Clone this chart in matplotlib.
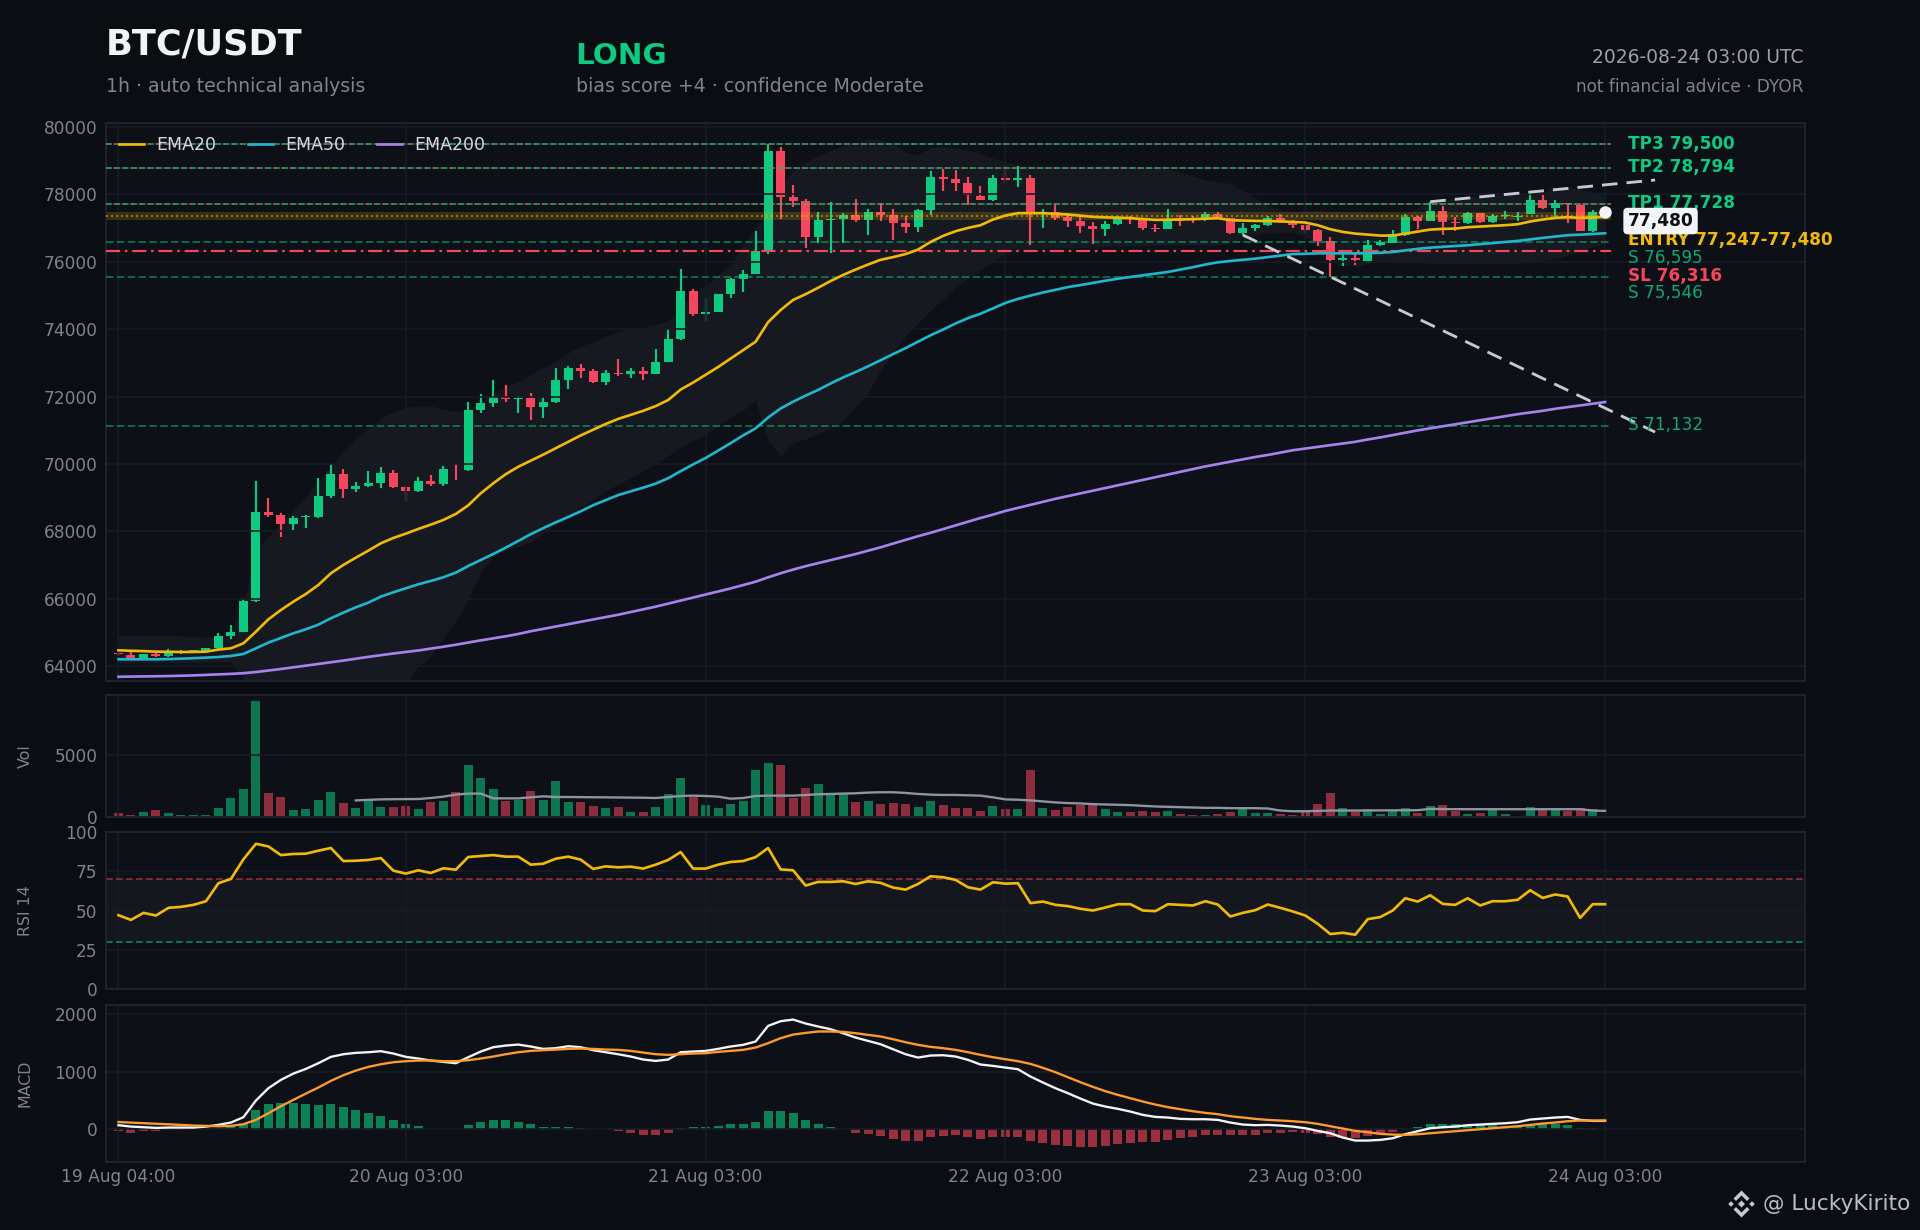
#!/usr/bin/python3
import matplotlib
matplotlib.use("Agg")
import matplotlib.pyplot as plt
from matplotlib.patches import Polygon

BG = "#0a0d11"
PANEL = "#0d1117"
GRID = "#171b25"
GREEN = "#0ecb81"
RED = "#f6465d"
GOLD = "#f0b90b"
MUTED = "#7d8490"

opens = [
    64370, 64336, 64247, 64375, 64306, 64415, 64415, 64465, 64544, 64900,
    65019, 65938, 68579, 68490, 68223, 68420, 68430, 69054, 69707, 69252,
    69350, 69440, 69736, 69321, 69202, 69499, 69410, 69855, 69825, 71605,
    71800, 71990, 71930, 71950, 71680, 71830, 72487, 72844, 72755, 72427,
    72695, 72665, 72755, 72665, 73023, 73708, 75138, 74453, 74512, 75048,
    75495, 75644, 76359, 79279, 77938, 77819, 76746, 77253, 77283, 77402,
    77253, 77491, 77402, 77146, 77027, 77533, 78516, 78457, 78338, 77950,
    77831, 78487, 78427, 78487, 77430, 77474, 77325, 77206, 77057, 76967,
    77116, 77325, 77265, 76997, 76967, 77285, 77295, 77265, 77414, 77295,
    76848, 76997, 77086, 77295, 77206, 77086, 76937, 76610, 76044, 76103,
    76014, 76490, 76550, 76788, 77325, 77206, 77503, 77176, 77146, 77444,
    77176, 77365, 77335, 77414, 77831, 77593, 77742, 77682, 76908, 77474,
]
closes = [
    64360, 64247, 64366, 64316, 64425, 64435, 64475, 64544, 64900, 65019,
    65938, 68589, 68480, 68223, 68401, 68450, 69054, 69707, 69262, 69350,
    69440, 69736, 69321, 69202, 69499, 69410, 69855, 69840, 71605, 71813,
    71990, 71930, 71950, 71680, 71830, 72487, 72844, 72755, 72427, 72695,
    72665, 72755, 72665, 73023, 73708, 75138, 74453, 74512, 75048, 75495,
    75644, 76329, 79279, 77938, 77819, 76746, 77253, 77283, 77402, 77253,
    77491, 77402, 77146, 77027, 77533, 78516, 78457, 78338, 77980, 77831,
    78487, 78427, 78487, 77430, 77460, 77295, 77206, 77057, 76967, 77116,
    77325, 77305, 76997, 76967, 77265, 77265, 77275, 77414, 77295, 76848,
    76997, 77086, 77295, 77206, 77086, 76937, 76610, 76044, 76103, 76044,
    76490, 76580, 76818, 77325, 77206, 77503, 77176, 77146, 77444, 77176,
    77355, 77375, 77355, 77831, 77593, 77742, 77712, 76908, 77474, 77480,
]
highs = [
    64395, 64415, 64366, 64415, 64514, 64485, 64475, 64544, 64989, 65226,
    65998, 69499, 68995, 68540, 68460, 68490, 69588, 70003, 69855, 69469,
    69795, 69914, 69825, 69351, 69617, 69677, 69944, 70033, 71843, 72070,
    72487, 72340, 72010, 72100, 71980, 72844, 72904, 72963, 72814, 72785,
    73112, 72844, 72874, 73410, 74006, 75793, 75197, 74900, 75048, 75525,
    75763, 76925, 79487, 79398, 78266, 77879, 77491, 77789, 77461, 77879,
    77581, 77760, 77563, 77355, 77563, 78695, 78755, 78725, 78516, 78248,
    78576, 78844, 78844, 78576, 77563, 77682, 77384, 77325, 77176, 77206,
    77355, 77355, 77295, 77116, 77563, 77384, 77355, 77474, 77474, 77295,
    77146, 77116, 77355, 77414, 77235, 77176, 76987, 76729, 76342, 76222,
    76640, 76640, 76937, 77414, 77355, 77772, 77652, 77325, 77474, 77444,
    77414, 77503, 77474, 78010, 77980, 77831, 77742, 77712, 77533, 77490,
]
lows = [
    64315, 64247, 64240, 64277, 64277, 64366, 64400, 64450, 64485, 64820,
    65019, 65918, 68430, 67837, 68045, 68104, 68400, 68995, 68995, 69173,
    69320, 69291, 69291, 68905, 69172, 69350, 69350, 69528, 69795, 71516,
    71680, 71830, 71503, 71295, 71355, 71800, 72218, 72546, 72397, 72338,
    72606, 72546, 72487, 72665, 73023, 73678, 74393, 74244, 74512, 74929,
    75108, 75644, 76240, 77283, 77640, 76419, 76568, 76270, 76568, 77193,
    76806, 77223, 76640, 76848, 76878, 77384, 78099, 78099, 77682, 77831,
    77801, 78367, 78218, 76491, 76997, 77235, 77027, 76848, 76520, 76759,
    77087, 77116, 76937, 76878, 76967, 77057, 77146, 77206, 77265, 76818,
    76789, 76908, 77057, 77146, 76997, 76848, 76461, 75537, 75865, 75895,
    75954, 76461, 76550, 76759, 76967, 77206, 76789, 76908, 77126, 77146,
    77146, 77265, 77206, 77414, 77563, 77295, 77146, 76908, 76878, 77470,
]

ema20 = [
    64475, 64460, 64450, 64435, 64430, 64425, 64425, 64435, 64495, 64534,
    64682, 65028, 65394, 65671, 65919, 66146, 66413, 66759, 67007, 67224,
    67432, 67649, 67808, 67936, 68075, 68203, 68342, 68520, 68777, 69133,
    69430, 69700, 69920, 70100, 70280, 70470, 70660, 70850, 71020, 71190,
    71340, 71460, 71580, 71720, 71900, 72210, 72420, 72650, 72880, 73130,
    73380, 73630, 74210, 74570, 74870, 75040, 75230, 75430, 75610, 75770,
    75920, 76060, 76140, 76230, 76362, 76590, 76769, 76908, 77007, 77086,
    77255, 77374, 77444, 77444, 77444, 77424, 77404, 77370, 77335, 77320,
    77310, 77295, 77270, 77245, 77250, 77255, 77265, 77280, 77295, 77235,
    77225, 77215, 77210, 77200, 77186, 77166, 77086, 76967, 76888, 76838,
    76808, 76779, 76779, 76838, 76898, 76957, 76977, 76987, 77027, 77047,
    77067, 77086, 77116, 77196, 77255, 77305, 77325, 77305, 77315, 77335,
]
ema50 = [
    64208, 64208, 64208, 64208, 64215, 64227, 64240, 64257, 64277, 64307,
    64366, 64534, 64702, 64841, 64979, 65098, 65236, 65424, 65592, 65750,
    65889, 66067, 66196, 66314, 66433, 66532, 66641, 66779, 66977, 67155,
    67333, 67520, 67720, 67920, 68100, 68270, 68430, 68600, 68780, 68930,
    69080, 69190, 69300, 69420, 69580, 69790, 69990, 70180, 70400, 70620,
    70850, 71060, 71380, 71650, 71850, 72030, 72200, 72390, 72570, 72730,
    72900, 73080, 73260, 73440, 73630, 73820, 73990, 74170, 74330, 74460,
    74620, 74780, 74900, 75000, 75090, 75170, 75250, 75310, 75375, 75440,
    75500, 75550, 75600, 75650, 75700, 75770, 75840, 75920, 75985, 76025,
    76060, 76095, 76140, 76185, 76230, 76240, 76252, 76252, 76252, 76252,
    76255, 76270, 76292, 76340, 76385, 76421, 76445, 76470, 76491, 76525,
    76555, 76590, 76620, 76665, 76710, 76750, 76790, 76805, 76825, 76848,
]
ema200 = [
    63690, 63695, 63700, 63705, 63710, 63720, 63730, 63745, 63760, 63775,
    63795, 63830, 63875, 63920, 63970, 64020, 64070, 64120, 64170, 64225,
    64280, 64330, 64380, 64425, 64470, 64525, 64580, 64640, 64705, 64770,
    64830, 64890, 64960, 65040, 65110, 65180, 65250, 65320, 65390, 65460,
    65530, 65610, 65690, 65770, 65860, 65950, 66040, 66130, 66220, 66310,
    66410, 66510, 66640, 66760, 66870, 66970, 67060, 67150, 67240, 67330,
    67430, 67530, 67640, 67750, 67860, 67960, 68070, 68180, 68290, 68400,
    68500, 68610, 68700, 68790, 68880, 68970, 69050, 69130, 69210, 69290,
    69370, 69450, 69530, 69610, 69690, 69770, 69850, 69930, 70000, 70070,
    70140, 70210, 70270, 70340, 70410, 70460, 70510, 70560, 70610, 70660,
    70730, 70790, 70860, 70930, 71000, 71060, 71120, 71180, 71240, 71300,
    71360, 71420, 71480, 71530, 71580, 71640, 71690, 71740, 71790, 71840,
]
band_upper = [
    64930, 64930, 64925, 64925, 64920, 64900, 64880, 64860, 64900, 65050,
    65800, 67500, 67850, 68250, 68650, 69050, 69500, 69950, 70400, 70750,
    71050, 71350, 71550, 71680, 71730, 71730, 71620, 71560, 71560, 71850,
    72100, 72300, 72450, 72650, 72850, 73050, 73300, 73500, 73630, 73780,
    73950, 74020, 74060, 74150, 74250, 74650, 75050, 75300, 75600, 75950,
    76500, 77000, 77550, 78250, 78700, 78950, 79150, 79300, 79440, 79550,
    79640, 79620, 79500, 79250, 79170, 79400, 79420, 79380, 79320, 79200,
    79072, 78950, 78874, 78860, 78850, 78850, 78850, 78850, 78850, 78850,
    78850, 78840, 78820, 78780, 78745, 78650, 78550, 78427, 78380, 78328,
    78100, 77880, 77680, 77550, 77480, 77520, 77533, 77500, 77480, 77460,
    77440, 77440, 77434, 77434, 77600, 77780, 77830, 77870, 77920, 77960,
    77980, 77985, 77990, 77990, 78050, 78180, 78228, 78150, 78030, 77980,
]
band_lower = [
    64100, 64100, 64100, 64100, 64100, 64100, 64110, 64120, 64130, 64140,
    63640, 62950, 63000, 62900, 62800, 62750, 62700, 62750, 62850, 62950,
    63050, 63150, 63300, 63480, 63990, 64300, 64850, 65350, 66000, 66800,
    67250, 67450, 67550, 67700, 67950, 68200, 68450, 68700, 68950, 69200,
    69400, 69600, 69800, 70000, 70250, 70500, 70700, 70900, 71150, 71400,
    71600, 71900, 70700, 70250, 70620, 70750, 70900, 71070, 71300, 71700,
    72100, 72800, 73300, 73800, 74200, 74550, 74900, 75230, 75500, 75750,
    76000, 76250, 76350, 76380, 76400, 76410, 76420, 76430, 76440, 76450,
    76460, 76470, 76480, 76490, 76500, 76500, 76500, 76500, 76500, 76560,
    76600, 76800, 76850, 76860, 76870, 76750, 76500, 76150, 75950, 75850,
    75950, 76044, 76020, 76000, 75980, 75960, 75960, 75960, 75960, 75960,
    75960, 75960, 75960, 75980, 76040, 76100, 76193, 76300, 76450, 76540,
]

volumes = [
    330, 165, 412, 577, 330, 165, 165, 165, 741, 1565,
    2307, 9391, 1977, 1648, 577, 659, 1400, 2060, 1153, 741,
    1400, 824, 824, 906, 659, 1236, 1318, 2060, 4201, 3130,
    2307, 1318, 1400, 2142, 1400, 2883, 1236, 1236, 906, 741,
    824, 412, 412, 824, 1895, 3130, 1648, 988, 741, 1071,
    1318, 3790, 4366, 4201, 1565, 2389, 2636, 1977, 1895, 1236,
    1318, 1071, 1153, 1071, 824, 1318, 988, 741, 741, 494,
    906, 659, 659, 3790, 741, 577, 824, 988, 988, 659,
    412, 412, 494, 412, 494, 247, 165, 165, 247, 412,
    824, 330, 330, 247, 165, 412, 1071, 1977, 741, 412,
    659, 247, 494, 741, 330, 906, 988, 494, 247, 330,
    577, 247, 82, 824, 577, 577, 494, 741, 659, 5,
]
vol_ma_start = 19
vol_ma = [
    1345, 1390, 1428, 1440, 1450, 1455, 1538, 1648, 1812, 1895,
    1895, 1510, 1510, 1510, 1593, 1675, 1620, 1620, 1610, 1600,
    1590, 1580, 1570, 1560, 1538, 1620, 1702, 1730, 1702, 1648,
    1483, 1538, 1702, 1730, 1730, 1730, 1785, 1840, 1867, 1895,
    1922, 1977, 2005, 2005, 1950, 1867, 1812, 1785, 1785, 1757,
    1730, 1593, 1428, 1400, 1345, 1263, 1181, 1126, 1098, 1043,
    1016, 988, 961, 906, 851, 824, 796, 769, 741, 741,
    714, 714, 714, 686, 522, 467, 467, 494, 522, 522,
    522, 530, 535, 540, 545, 549, 659, 640, 635, 632,
    632, 632, 632, 632, 632, 632, 632, 632, 632, 522, 495,
]

rsi = [
    47.0, 44.0, 48.5, 46.8, 51.7, 52.3, 53.6, 55.9, 67.4, 70.1,
    82.6, 92.5, 90.8, 85.3, 86.0, 86.2, 88.1, 89.8, 81.5, 81.7,
    82.2, 83.4, 75.4, 73.5, 75.6, 73.9, 76.9, 76.0, 84.1, 84.7,
    85.3, 84.3, 84.3, 79.2, 79.8, 83.0, 84.3, 82.4, 76.5, 78.1,
    77.5, 77.9, 76.7, 79.2, 82.2, 87.2, 76.7, 76.7, 79.2, 80.9,
    81.5, 84.0, 89.8, 76.2, 75.6, 65.9, 68.2, 68.2, 68.6, 66.9,
    68.6, 67.6, 64.6, 63.3, 66.9, 71.8, 71.2, 69.5, 64.8, 63.3,
    68.0, 67.1, 67.4, 54.7, 55.7, 53.6, 52.8, 51.1, 50.0, 51.9,
    54.0, 54.0, 50.0, 49.6, 54.0, 53.6, 53.2, 55.9, 53.8, 46.2,
    48.5, 50.2, 53.8, 51.7, 49.4, 46.8, 41.5, 35.0, 35.8, 34.6,
    44.5, 45.8, 50.0, 57.8, 55.7, 59.7, 54.2, 53.6, 57.8, 53.2,
    55.9, 55.9, 56.8, 62.9, 58.0, 60.2, 58.9, 45.3, 54.0, 54.0,
]

macd = [
    70, 46, 35, 23, 29, 29, 29, 46, 75, 116,
    209, 499, 713, 858, 968, 1049, 1148, 1258, 1304, 1328,
    1339, 1357, 1316, 1258, 1229, 1194, 1171, 1148, 1252, 1351,
    1426, 1455, 1472, 1438, 1397, 1409, 1443, 1426, 1374, 1339,
    1304, 1264, 1212, 1188, 1212, 1339, 1351, 1362, 1397, 1438,
    1467, 1525, 1797, 1878, 1907, 1838, 1786, 1739, 1670, 1594,
    1536, 1478, 1391, 1304, 1246, 1281, 1287, 1264, 1206, 1125,
    1101, 1072, 1043, 916, 812, 713, 626, 533, 446, 394,
    354, 307, 249, 214, 203, 180, 174, 174, 162, 116,
    81, 70, 75, 64, 46, 17, -29, -70, -145, -197,
    -197, -186, -157, -87, -35, 17, 35, 46, 70, 81,
    93, 104, 122, 168, 186, 203, 214, 162, 145, 145,
]
signal = [
    125, 115, 105, 95, 85, 75, 64, 58, 52, 58,
    87, 162, 278, 400, 510, 620, 725, 841, 939, 1020,
    1084, 1130, 1165, 1183, 1194, 1194, 1183, 1183, 1200, 1229,
    1264, 1304, 1339, 1362, 1374, 1385, 1397, 1403, 1397, 1385,
    1380, 1362, 1333, 1304, 1293, 1304, 1316, 1322, 1345, 1362,
    1380, 1420, 1496, 1583, 1646, 1675, 1699, 1699, 1693, 1670,
    1641, 1612, 1565, 1513, 1467, 1432, 1409, 1380, 1339, 1293,
    1252, 1217, 1183, 1136, 1067, 991, 904, 817, 736, 661,
    597, 539, 481, 429, 383, 348, 313, 284, 261, 226,
    203, 180, 162, 151, 139, 122, 93, 52, 12, -29,
    -52, -81, -93, -99, -87, -70, -52, -35, -17, 0,
    17, 35, 52, 75, 99, 116, 139, 151, 151, 151,
]
macd_hist = [
    -23, -58, -29, -29, -17, -12, 0, 0, 23, 70,
    99, 336, 440, 458, 458, 440, 423, 440, 388, 336,
    284, 232, 162, 93, 58, 0, 0, 0, 75, 128,
    162, 162, 128, 93, 46, 46, 46, 29, 0, 0,
    -23, -58, -93, -98, -58, 29, 46, 46, 64, 87,
    87, 122, 319, 319, 284, 162, 93, 41, 0, -58,
    -81, -116, -168, -203, -203, -133, -116, -99, -133, -168,
    -133, -133, -133, -203, -238, -272, -290, -307, -307, -290,
    -255, -238, -220, -220, -186, -151, -133, -99, -99, -99,
    -99, -99, -64, -64, -46, -64, -81, -133, -151, -151,
    -116, -81, -46, 12, 46, 93, 93, 93, 81, 70,
    70, 58, 58, 70, 93, 93, 70, 17, 17, 0,
]

resistance_levels = [79500, 78794, 77728]
support_levels = [76595, 75546, 71132]
stop_loss = 76316
entry_low, entry_high = 77247, 77480
last_price = 77480

trend_up_x = [105, 123]
trend_up_y = [77784, 78427]
trend_down_x = [90, 123]
trend_down_y = [76796, 70950]

level_labels = ["TP3 79,500", "TP2 78,794", "TP1 77,728", "ENTRY 77,247-77,480",
                "S 76,595", "SL 76,316", "S 75,546", "S 71,132"]
level_label_y = [79506, 78803, 77735, 76657, 76110, 75590, 75065, 71150]
level_label_color = [GREEN, GREEN, GREEN, GOLD, "#0fa872", RED, "#0fa872", "#0fa872"]
level_label_bold = [True, True, True, True, False, True, False, False]

time_ticks = [0, 23, 47, 71, 95, 119]
time_labels = ["19 Aug 04:00", "20 Aug 03:00", "21 Aug 03:00", "22 Aug 03:00", "23 Aug 03:00", "24 Aug 03:00"]

W, H = 1920, 1230
AX_LEFT, AX_RIGHT = 106, 1805


def make_axes(fig, top, bottom):
    ax = fig.add_axes([AX_LEFT / W, 1 - bottom / H, (AX_RIGHT - AX_LEFT) / W, (bottom - top) / H])
    ax.set_facecolor(PANEL)
    ax.set_xlim(-1, 135)
    ax.set_xticks(time_ticks)
    ax.set_xticklabels([])
    ax.grid(True, color=GRID, linewidth=1)
    ax.tick_params(length=0, labelsize=10.2, colors=MUTED, pad=5)
    for spine in ax.spines.values():
        spine.set_color("#1e222d")
        spine.set_linewidth(1.2)
    return ax


def ylabel(ax, text):
    ax.set_ylabel(text, color=MUTED, fontsize=9.5)
    ax.yaxis.set_label_coords(-0.043, 0.5)


def fig_text(fig, x, y, text, **kw):
    fig.text(x / W, 1 - y / H, text, **kw)


def draw_price(ax):
    xs = list(range(len(closes)))
    ax.fill_between(xs, band_lower, band_upper, color="#ffffff", alpha=0.038, linewidth=0)

    colors = [GREEN if c >= o else RED for o, c in zip(opens, closes)]
    ax.vlines(xs, lows, highs, colors=colors, linewidth=1.3, zorder=1)
    bottoms = [min(o, c) for o, c in zip(opens, closes)]
    heights = [max(abs(c - o), 25) for o, c in zip(opens, closes)]
    ax.bar(xs, heights, 0.72, bottom=bottoms, color=colors, linewidth=0)

    ax.plot(xs, ema20, color=GOLD, linewidth=1.6, label="EMA20", zorder=4)
    ax.plot(xs, ema50, color="#22b5cc", linewidth=1.6, label="EMA50", zorder=4)
    ax.plot(xs, ema200, color="#a583ec", linewidth=1.6, label="EMA200", zorder=4)

    line_end = [-1, 119.5]
    for level in resistance_levels:
        ax.plot(line_end, [level, level], color=GREEN, linewidth=0.95, linestyle=(0, (3.7, 1.6)), alpha=0.85, zorder=3)
        ax.plot(line_end, [level, level], color=RED, linewidth=0.95, linestyle=(0.75, (2.2, 3.1)), alpha=0.6, zorder=3)
    for level in support_levels:
        ax.plot(line_end, [level, level], color=GREEN, linewidth=1, linestyle=(0, (4.5, 2)), alpha=0.55, zorder=3)
    ax.plot(line_end, [stop_loss, stop_loss], color=RED, linewidth=1.3, linestyle=(0, (6.5, 2.2, 1.2, 2.2)), zorder=3)

    ax.fill_between(line_end, entry_low, entry_high, color=GOLD, alpha=0.18, linewidth=0, zorder=2.5)
    entry_mid = (entry_low + entry_high) / 2
    ax.plot(line_end, [entry_mid, entry_mid], color=GOLD, linewidth=1, linestyle=(0, (1.2, 1.8)), alpha=0.6, zorder=3)

    ax.plot(trend_up_x, trend_up_y, color="#c5c9d2", linewidth=1.7, linestyle=(0, (5.5, 3.2)), zorder=5)
    ax.plot(trend_down_x, trend_down_y, color="#c5c9d2", linewidth=1.7, linestyle=(0, (5.5, 3.2)), zorder=5)

    ax.plot([xs[-1]], [last_price], "o", color="#f2f4f7", markersize=6.5, zorder=6)

    for text, y, col, bold in zip(level_labels, level_label_y, level_label_color, level_label_bold):
        ax.text(120.8, y, text, color=col, fontsize=10.1, va="center", clip_on=False, zorder=7,
                fontweight="bold" if bold else "normal")
    ax.text(120.8, 77210, f"{last_price:,}", color="#0d1117", fontsize=10.2, fontweight="bold", va="center", zorder=8,
            bbox=dict(boxstyle="round,pad=0.25", facecolor="#f2f4f7", edgecolor="none"))

    ax.set_ylim(63564, 80119)
    ax.set_yticks(range(64000, 80001, 2000))
    leg = ax.legend(loc="upper left", ncols=3, frameon=False, fontsize=10.4, handlelength=1.43,
                    handletextpad=0.7, columnspacing=1.85, borderaxespad=0.55, borderpad=0.2)
    for t in leg.get_texts():
        t.set_color("#d6d9df")


def draw_volume(ax):
    xs = list(range(len(volumes)))
    colors = [GREEN if c >= o else RED for o, c in zip(opens, closes)]
    ax.bar(xs, volumes, 0.72, color=colors, alpha=0.55, linewidth=0)
    ax.plot(range(vol_ma_start, vol_ma_start + len(vol_ma)), vol_ma, color="#8f95a0", linewidth=1.4, zorder=4)
    ax.set_ylim(0, 9880)
    ax.set_yticks([0, 5000])
    ylabel(ax, "Vol")


def draw_rsi(ax):
    ax.axhspan(30, 70, color="#ffffff", alpha=0.03, linewidth=0)
    ax.axhline(70, color=RED, linewidth=1, linestyle=(0, (4, 2)), alpha=0.55)
    ax.axhline(30, color=GREEN, linewidth=1, linestyle=(0, (4, 2)), alpha=0.6)
    ax.plot(range(len(rsi)), rsi, color=GOLD, linewidth=1.6, zorder=4)
    ax.set_ylim(0, 100)
    ax.set_yticks([0, 25, 50, 75, 100])
    ylabel(ax, "RSI 14")


def draw_macd(ax):
    xs = list(range(len(macd)))
    colors = [GREEN if v >= 0 else RED for v in macd_hist]
    ax.bar(xs, macd_hist, 0.72, color=colors, alpha=0.6, linewidth=0)
    ax.plot(xs, macd, color="#f2f4f7", linewidth=1.4, zorder=4)
    ax.plot(xs, signal, color="#ff9a2e", linewidth=1.4, zorder=4)
    ax.set_ylim(-570, 2160)
    ax.set_yticks([0, 1000, 2000])
    ax.set_xticklabels(time_labels)
    ax.tick_params(axis="x", pad=3.5)
    ylabel(ax, "MACD")


def draw_watermark(fig):
    cx, cy = 1741.5, 1204
    icon = [
        [(0, -13.5), (8, -5.5), (5.5, -3), (0, -8.5), (-5.5, -3), (-8, -5.5)],
        [(0, 13.5), (8, 5.5), (5.5, 3), (0, 8.5), (-5.5, 3), (-8, 5.5)],
        [(0, -3.5), (3.5, 0), (0, 3.5), (-3.5, 0)],
        [(-10.5, -2.8), (-7.7, 0), (-10.5, 2.8), (-13.3, 0)],
        [(10.5, -2.8), (13.3, 0), (10.5, 2.8), (7.7, 0)],
    ]
    for shape in icon:
        pts = [((cx + dx) / W, 1 - (cy + dy) / H) for dx, dy in shape]
        fig.add_artist(Polygon(pts, closed=True, facecolor="#c4c8d0", edgecolor="none", transform=fig.transFigure))
    fig_text(fig, 1910, 1204, "@ LuckyKirito", color="#b9bdc6", fontsize=13, ha="right", va="center")


def main():
    plt.rcParams["font.family"] = ["DejaVu Sans"]
    fig = plt.figure(figsize=(16, 10.25), dpi=120, facecolor=BG)

    ax_price = make_axes(fig, 123, 681)
    ax_vol = make_axes(fig, 695, 817)
    ax_rsi = make_axes(fig, 832, 989)
    ax_macd = make_axes(fig, 1005, 1162)

    draw_price(ax_price)
    draw_volume(ax_vol)
    draw_rsi(ax_rsi)
    draw_macd(ax_macd)

    fig_text(fig, 106, 55, "BTC/USDT", color="#f1f3f6", fontsize=21.1, fontweight="bold", va="baseline")
    fig_text(fig, 106, 92, "1h · auto technical analysis", color=MUTED, fontsize=11.3, va="baseline")
    fig_text(fig, 575, 64, "LONG", color=GREEN, fontsize=17.6, fontweight="bold", va="baseline")
    fig_text(fig, 576, 92, "bias score +4 · confidence Moderate", color=MUTED, fontsize=11.4, va="baseline")
    fig_text(fig, 1804, 63, "2026-08-24 03:00 UTC", color="#9aa0aa", fontsize=11.25, ha="right", va="baseline")
    fig_text(fig, 1804, 92, "not financial advice · DYOR", color=MUTED, fontsize=10.1, ha="right", va="baseline")

    draw_watermark(fig)
    fig.savefig("out.png", dpi=120, facecolor=BG)


if __name__ == "__main__":
    main()
